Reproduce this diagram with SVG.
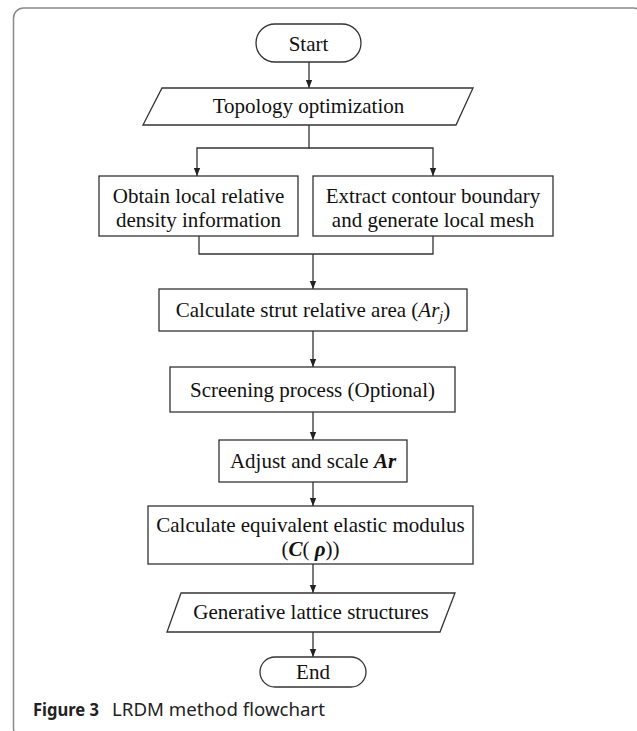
<svg xmlns="http://www.w3.org/2000/svg" width="637" height="731" viewBox="0 0 637 731">
  <defs>
    <marker id="arr" viewBox="0 0 10 10" refX="10" refY="5" markerWidth="8" markerHeight="8" markerUnits="userSpaceOnUse" orient="auto">
      <path d="M0,1 L10,5 L0,9 z" fill="#222"/>
    </marker>
    <style>
      .shape { fill: #fff; stroke: #333; stroke-width: 1.3; }
      .t { font-family: "Liberation Serif", "Times New Roman", serif; font-size: 21px; fill: #111; text-anchor: middle; }
      .bi { font-weight: bold; font-style: italic; }
      .it { font-style: italic; }
      .conn { fill: none; stroke: #333; stroke-width: 1.3; }
      .cap { font-family: "Noto Sans", "Open Sans", sans-serif; font-size: 18px; fill: #222; }
    </style>
  </defs>
  <rect x="0" y="0" width="637" height="731" fill="#fff"/>
  <rect x="13.5" y="8" width="630" height="730" rx="10" ry="10" fill="none" stroke="#8a8a8a" stroke-width="1.5"/>

  <g id="connectors">
    <path class="conn" d="M309,62 V88" marker-end="url(#arr)"/>
    <path class="conn" d="M309,125 V148 H197 V176" marker-end="url(#arr)"/>
    <path class="conn" d="M309,148 H433 V176" marker-end="url(#arr)"/>
    <path class="conn" d="M199,236 V254 H433 V236"/>
    <path class="conn" d="M313,254 V289" marker-end="url(#arr)"/>
    <path class="conn" d="M313,331 V367" marker-end="url(#arr)"/>
    <path class="conn" d="M313,412 V440" marker-end="url(#arr)"/>
    <path class="conn" d="M313,482 V506" marker-end="url(#arr)"/>
    <path class="conn" d="M313,564 V593" marker-end="url(#arr)"/>
    <path class="conn" d="M313,632 V657" marker-end="url(#arr)"/>
  </g>

  <g id="start">
    <rect class="shape" x="256" y="24" width="105" height="38" rx="19" ry="19"/>
    <text class="t" x="308.5" y="50.5">Start</text>
  </g>
  <g id="topology">
    <polygon class="shape" points="162,88 473,88 456,125 143,125"/>
    <text class="t" x="308.5" y="113">Topology optimization</text>
  </g>
  <g id="obtain">
    <rect class="shape" x="99" y="176" width="199" height="60"/>
    <text class="t" x="198.5" y="203">Obtain local relative</text>
    <text class="t" x="198.5" y="227">density information</text>
  </g>
  <g id="extract">
    <rect class="shape" x="313" y="176" width="240" height="60"/>
    <text class="t" x="433" y="203">Extract contour boundary</text>
    <text class="t" x="433" y="227">and generate local mesh</text>
  </g>
  <g id="calc-area">
    <rect class="shape" x="159" y="289" width="308" height="42"/>
    <text class="t" x="313" y="317">Calculate strut relative area (<tspan class="it">Ar</tspan><tspan class="it" font-size="14" dy="4">j</tspan><tspan dy="-4">)</tspan></text>
  </g>
  <g id="screening">
    <rect class="shape" x="170" y="367" width="285" height="45"/>
    <text class="t" x="312.5" y="397">Screening process (Optional)</text>
  </g>
  <g id="adjust">
    <rect class="shape" x="219" y="440" width="188" height="42"/>
    <text class="t" x="313" y="468">Adjust and scale <tspan class="bi">Ar</tspan></text>
  </g>
  <g id="calc-modulus">
    <rect class="shape" x="148" y="506" width="325" height="58"/>
    <text class="t" x="310.5" y="532">Calculate equivalent elastic modulus</text>
    <text class="t" x="310.5" y="556">(<tspan class="bi">C</tspan>( <tspan class="bi">ρ</tspan>))</text>
  </g>
  <g id="generative">
    <polygon class="shape" points="181,593 455,593 440,632 167,632"/>
    <text class="t" x="311" y="619">Generative lattice structures</text>
  </g>
  <g id="end">
    <rect class="shape" x="260" y="657" width="106" height="30" rx="15" ry="15"/>
    <text class="t" x="313" y="679">End</text>
  </g>

  <g id="caption">
    <text class="cap" x="33" y="716" font-weight="bold" textLength="66" lengthAdjust="spacingAndGlyphs">Figure 3</text>
    <text class="cap" x="112" y="716" textLength="213" lengthAdjust="spacingAndGlyphs">LRDM method flowchart</text>
  </g>
</svg>
